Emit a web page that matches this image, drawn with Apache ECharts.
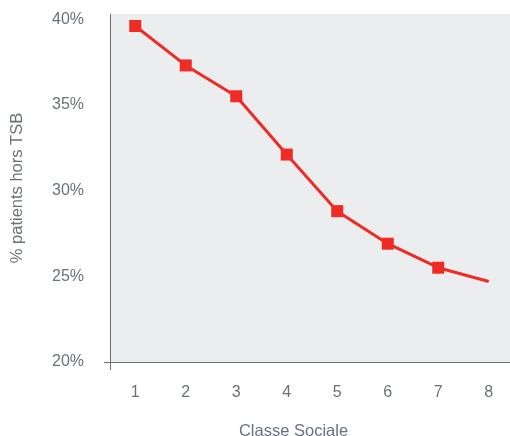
<!DOCTYPE html>
<html>
<head>
<meta charset="utf-8">
<script src="https://cdn.jsdelivr.net/npm/echarts@6/dist/echarts.min.js"></script>
<style>
  html, body { margin: 0; padding: 0; background: #ffffff; }
  #chart { width: 510px; height: 436px; }
</style>
</head>
<body>
<div id="chart"></div>
<script>
// Classes sociales (axe X)
const categories = ['1', '2', '3', '4', '5', '6', '7', '8'];
// % de patients hors TSB par classe sociale
const values = [39.6, 37.3, 35.5, 32.1, 28.8, 26.9, 25.5, 24.7];
// Classes avec marqueur carré (la dernière n'en a pas)
const markedClasses = ['1', '2', '3', '4', '5', '6', '7'];

const textColor = '#6a717c';
const axisColor = '#6b717a';
const red = '#ee2b24';
const font = 'Liberation Sans, Arial, Helvetica, sans-serif';

const seriesData = values.map((v, i) => ({
  value: v,
  symbolSize: markedClasses.includes(categories[i]) ? 12 : 0
}));

const chart = echarts.init(document.getElementById('chart'), null, { renderer: 'canvas' });
chart.setOption({
  animation: false,
  backgroundColor: '#ffffff',
  grid: {
    left: 110,
    top: 14,
    width: 404,
    height: 348,
    outerBoundsMode: 'none',
    containLabel: false,
    show: true,
    backgroundColor: '#ecedef',
    borderWidth: 0
  },
  xAxis: {
    type: 'category',
    data: categories,
    boundaryGap: true,
    name: 'Classe Sociale',
    nameLocation: 'middle',
    nameGap: 61,
    nameTextStyle: { color: textColor, fontSize: 16.5, fontFamily: font, padding: [0, 37, 0, 0] },
    axisLine: { show: true, lineStyle: { color: axisColor, width: 1 } },
    axisTick: { show: true, length: 8, interval: (i) => i === 0, lineStyle: { color: axisColor } },
    axisLabel: { color: textColor, fontSize: 16, fontFamily: font, margin: 23 },
    splitLine: { show: false }
  },
  yAxis: {
    type: 'value',
    min: 20,
    max: 40.3,
    interval: 5,
    name: '% patients hors TSB',
    nameLocation: 'middle',
    nameGap: 84,
    nameRotate: 90,
    nameTextStyle: { color: textColor, fontSize: 16.5, fontFamily: font },
    axisLine: { show: true, lineStyle: { color: axisColor, width: 1 } },
    axisTick: { show: true, length: 6, customValues: [20], lineStyle: { color: axisColor } },
    axisLabel: {
      color: textColor, fontSize: 16, fontFamily: font, margin: 26,
      showMaxLabel: false,
      padding: [0, 0, 5, 0],
      formatter: (v) => v + '%'
    },
    splitLine: { show: false }
  },
  series: [{
    type: 'line',
    data: seriesData,
    symbol: 'rect',
    itemStyle: { color: red },
    lineStyle: { color: red, width: 3 },
    z: 5
  }]
});
</script>
</body>
</html>
